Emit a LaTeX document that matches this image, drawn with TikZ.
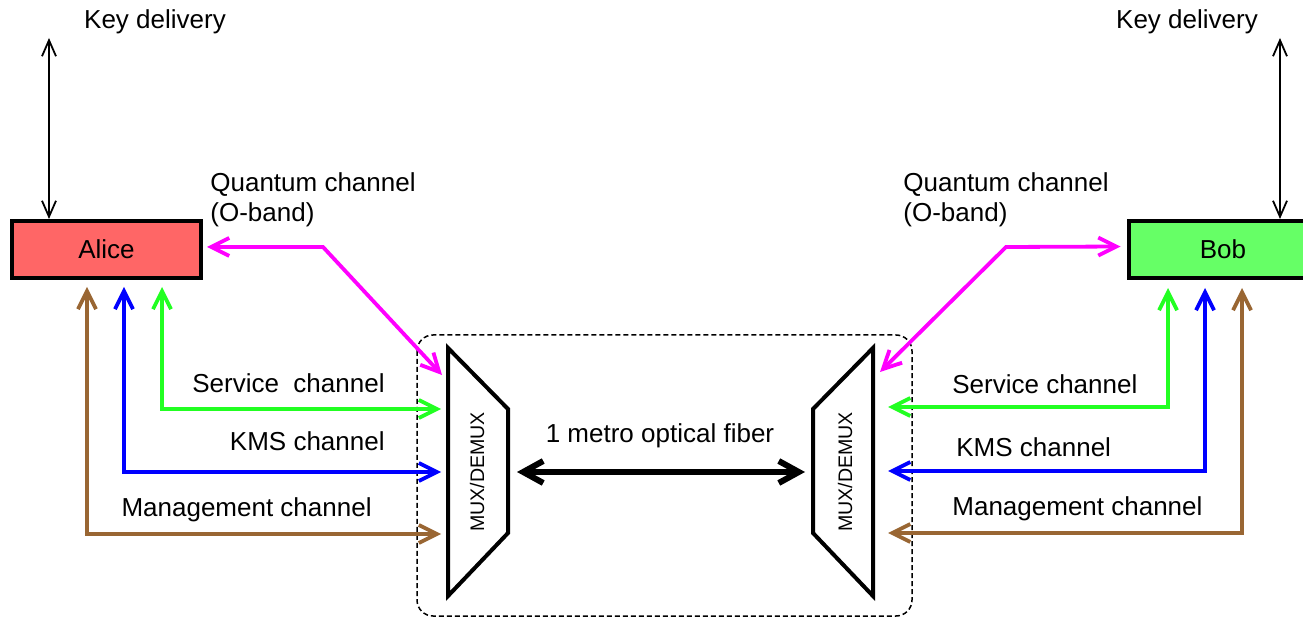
\documentclass[tikz,border=0pt]{standalone}
\usepackage{fontspec}
\setmainfont{Liberation Sans}
\usetikzlibrary{arrows.meta,calc}
\definecolor{alicered}{HTML}{FF6666}
\definecolor{bobgreen}{HTML}{66FF66}
\definecolor{qmag}{HTML}{FF00FF}
\definecolor{svcgreen}{HTML}{22FF22}
\definecolor{kmsblue}{HTML}{0000FF}
\definecolor{mgmtbrown}{HTML}{996633}
\begin{document}
\begin{tikzpicture}[x=0.5pt,y=-0.5pt,
  every node/.style={font=\fontsize{13}{15}\selectfont, inner sep=0pt},
  party/.style={draw, line width=2pt, minimum width=94.5pt, minimum height=28.5pt},
  chan/.style={line width=1.9pt, line join=miter,
    {Straight Barb[length=9pt,width=9pt]}-{Straight Barb[length=9pt,width=9pt]}},
  keyline/.style={line width=0.9pt,
    {Straight Barb[length=8pt,width=7pt]}-{Straight Barb[length=8pt,width=7pt]}},
  fiber/.style={line width=3pt,
    {Straight Barb[length=10pt,width=11pt]}-{Straight Barb[length=10pt,width=11pt]}},
  muxshape/.style={line width=2pt, line join=miter},
  muxtext/.style={font=\fontsize{9.8}{11}\selectfont, rotate=90},
  encl/.style={line width=0.75pt, dash pattern=on 2.5pt off 1.5pt, rounded corners=8pt}
]
\useasboundingbox (0,0) rectangle (1303,620);

% end nodes
\node[party, fill=alicered] (Alice) at (106.5,249.5) {Alice};
\node[party, fill=bobgreen] (Bob) at (1223,249.5) {Bob};

% key delivery
\coordinate (kdA) at (49,38);
\coordinate (kdB) at (1280,38);
\node (kdAlbl) at (155,22) {Key delivery};
\node (kdBlbl) at (1187,22) {Key delivery};
\draw[keyline] (kdA) -- ($(Alice.north)+(-57.5,0)$);
\draw[keyline] (kdB) -- ($(Bob.north)+(57,0)$);

% enclosure of the two multiplexers
\draw[encl] (417,335) rectangle (912,616);

% multiplexers
\draw[muxshape] (448,348) -- (508,409) -- (508,533) -- (448,596) -- cycle;
\draw[muxshape] (873,348) -- (813,409) -- (813,533) -- (873,596) -- cycle;
\node[muxtext] (muxL) at (477,472) {MUX/DEMUX};
\node[muxtext] (muxR) at (845,472) {MUX/DEMUX};

% ports of the multiplexers
\coordinate (muxLq) at (442,375);
\coordinate (muxLs) at (441,409);
\coordinate (muxLk) at (441,472);
\coordinate (muxLm) at (441,534);
\coordinate (muxRq) at (880,372);
\coordinate (muxRs) at (888,407);
\coordinate (muxRk) at (888,471);
\coordinate (muxRm) at (888,533);

% fiber link
\draw[fiber] ($(muxL.center)+(40,0)$) -- ($(muxR.center)+(-40,0)$);
\node (fiblbl) at (660,436) {1 metro optical fiber};

% quantum channels
\draw[chan, qmag] ($(Alice.east)+(4,-2.5)$) -- (323,247) -- (muxLq);
\draw[chan, qmag] (muxRq) -- (1006,247) -- ($(Bob.west)+(-6,-3)$);
\node[anchor=west, align=left] (qA) at (210,200) {Quantum channel\\(O-band)};
\node[anchor=west, align=left] (qB) at (903,200) {Quantum channel\\(O-band)};

% Alice side classical channels
\draw[chan, svcgreen]  ($(Alice.south)+(55.5,7)$) |- (muxLs);
\draw[chan, kmsblue]   ($(Alice.south)+(17.5,7)$) |- (muxLk);
\draw[chan, mgmtbrown] ($(Alice.south)+(-19.5,7)$) |- (muxLm);
\node[anchor=east] (sA) at (385,383) {Service\ \ channel};
\node[anchor=east] (kA) at (385,441) {KMS channel};
\node[anchor=east] (mA) at (372,510) {Management channel};

% Bob side classical channels
\draw[chan, svcgreen]  (muxRs) -| ($(Bob.south)+(-55,8)$);
\draw[chan, kmsblue]   (muxRk) -| ($(Bob.south)+(-18,8)$);
\draw[chan, mgmtbrown] (muxRm) -| ($(Bob.south)+(19,8)$);
\node[anchor=west] (sB) at (952,384) {Service channel};
\node[anchor=west] (kB) at (956,447) {KMS channel};
\node[anchor=west] (mB) at (952,509) {Management channel};
\end{tikzpicture}
\end{document}
